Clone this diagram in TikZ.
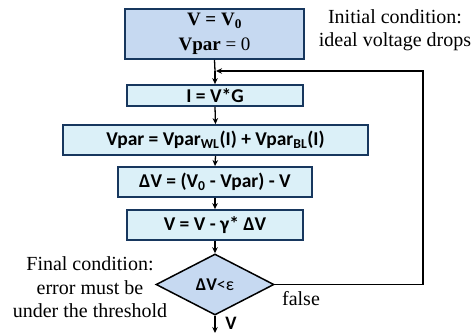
\documentclass[tikz,border=0pt]{standalone}
\usepackage{fontspec}
\setmainfont{Liberation Serif}
\newfontfamily\calib{Carlito}
\usetikzlibrary{shapes.geometric,arrows.meta}
\definecolor{topfill}{RGB}{198,217,241}
\definecolor{boxfill}{RGB}{219,240,248}
\definecolor{navy}{RGB}{23,55,94}
\begin{document}
\begin{tikzpicture}[x=1pt,y=-1pt,
  procbox/.style={draw=navy, line width=1.8pt, fill=boxfill, inner sep=0pt,
    minimum height=30pt, font=\calib\bfseries\fontsize{19.5}{23}\selectfont},
  initbox/.style={draw=navy, line width=1.8pt, fill=topfill, inner sep=0pt,
    align=center, font=\fontsize{19}{25}\selectfont},
  decbox/.style={diamond, draw=black, line width=1.5pt, fill=topfill, inner sep=0pt,
    font=\calib\fontsize{18}{22}\selectfont},
  note/.style={align=center, inner sep=0pt, font=\fontsize{20}{23.5}\selectfont},
  conn/.style={line width=1.3pt, -{Stealth[length=6pt,width=5.5pt]}},
  loopline/.style={line width=1.8pt, -{Stealth[length=6pt,width=5.5pt]}}
]
\useasboundingbox (0,0) rectangle (474,333);

\node[initbox, minimum width=179pt, minimum height=50pt] (init) at (214.5,34)
  {\textbf{V = V\textsubscript{0}}\\\textbf{Vpar} = 0};
\node[procbox, minimum width=176pt, minimum height=21pt] (calcI) at (215,95.5) {I = V*G};
\node[procbox, minimum width=305pt] (vpar) at (215.5,140)
  {Vpar = Vpar\textsubscript{WL}(I) + Vpar\textsubscript{BL}(I)};
\node[procbox, minimum width=194pt] (dv) at (215,182)
  {ΔV = (V\textsubscript{0} - Vpar) - V};
\node[procbox, minimum width=176pt] (upd) at (215,225)
  {V = V - γ* ΔV};
\node[decbox, minimum width=118pt, minimum height=61pt] (dec) at (215,284.5)
  {\textbf{ΔV}<ε};

\node[note] (initnote) at (395,30) {Initial condition:\\ideal voltage drops};
\node[note] (finalnote) at (90,287.5) {Final condition:\\error must be\\under the threshold};
\node[note] (falselbl) at (301,299) {false};
\node[inner sep=0pt, font=\calib\bfseries\fontsize{19}{23}\selectfont] (vout) at (231,323) {V};

\coordinate (join) at (215,71);
\coordinate (corner1) at (423,284.5);
\coordinate (corner2) at (423,71);
\coordinate (outend) at (215,333);

\draw[line width=1.3pt] (init.south) -- (join);
\draw[conn] (join) -- (calcI.north);
\draw[conn] (calcI.south) -- (vpar.north);
\draw[conn] (vpar.south) -- (dv.north);
\draw[conn] (dv.south) -- (upd.north);
\draw[conn] (upd.south) -- (dec.north);
\draw[conn] (dec.south) -- (outend);
\draw[loopline] (dec.east) -- (corner1) -- (corner2) -- ([xshift=1pt]join);
\end{tikzpicture}
\end{document}
